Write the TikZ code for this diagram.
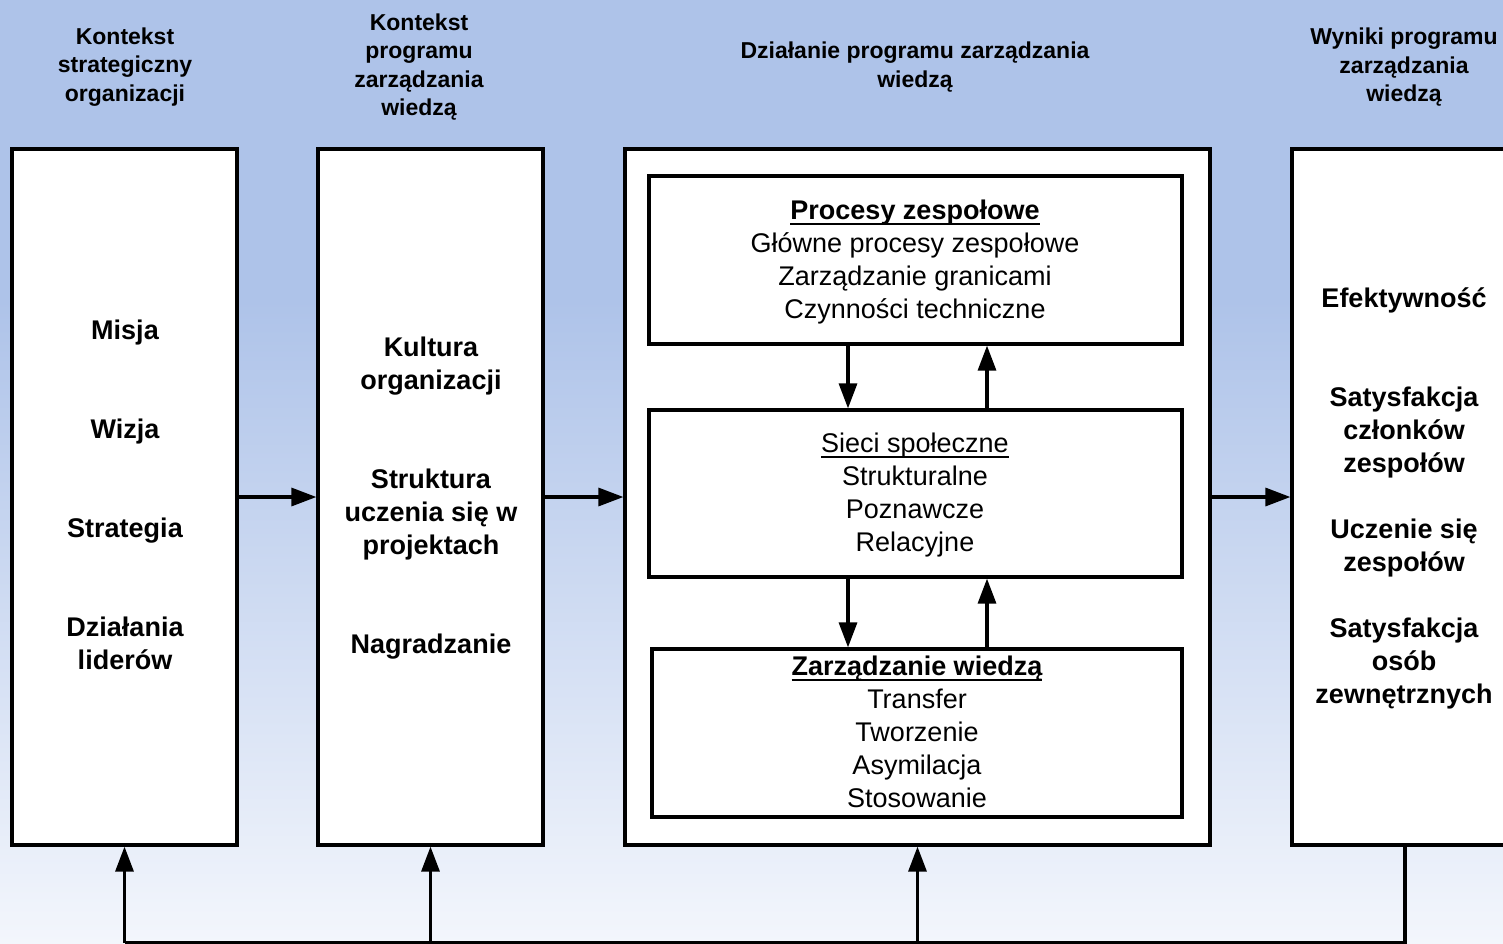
\documentclass[tikz,border=0pt]{standalone}
\usepackage{fontspec}
\setmainfont{Liberation Sans}
\usetikzlibrary{arrows.meta}

\definecolor{skytop}{RGB}{174,195,233}
\definecolor{skybot}{RGB}{243,246,252}

% underline with a rule of fixed thickness and depth
\newcommand{\undl}[1]{\setbox0\hbox{#1}\rlap{\rule[-5pt]{\wd0}{2pt}}\box0}

\begin{document}
\begin{tikzpicture}[x=1pt,y=-1pt,
  panel/.style={draw=black,fill=white,line width=3.2pt,inner sep=0pt},
  link/.style={line width=3.2pt},
  arr/.style={line width=3.2pt,-{Triangle[length=25pt,width=18pt]}},
  headtext/.style={align=center,inner sep=0pt,font=\bfseries\fontsize{23}{28.5}\selectfont,
    execute at begin node=\strut,execute at end node=\strut},
  boldtext/.style={align=center,inner sep=0pt,font=\bfseries\fontsize{27}{33}\selectfont,
    execute at begin node=\strut,execute at end node=\strut},
  plaintext/.style={align=center,inner sep=0pt,font=\fontsize{27}{33}\selectfont,
    execute at begin node=\strut,execute at end node=\strut}]

\useasboundingbox (0,0) rectangle (1503,943);
\clip (0,0) rectangle (1503,943);

% background
\fill[skytop] (0,0) rectangle (1503,301);
\shade[top color=skytop,bottom color=skybot] (0,300) rectangle (1503,943);

% column headings
\node[headtext] (h1) at (125,68.8) {Kontekst\\strategiczny\\organizacji};
\node[headtext] (h2) at (419,69) {Kontekst\\programu\\zarządzania\\wiedzą};
\node[headtext] (h3) at (915,69) {Działanie programu zarządzania\\wiedzą};
\node[headtext] (h4) at (1404,69) {Wyniki programu\\zarządzania\\wiedzą};

% main columns
\node[panel,minimum width=225pt,minimum height=696pt] (b1) at (124.5,497) {};
\node[panel,minimum width=225pt,minimum height=696pt] (b2) at (430.5,497) {};
\node[panel,minimum width=585pt,minimum height=696pt] (b3) at (917.5,497) {};
\node[panel,minimum width=240pt,minimum height=696pt] (b4) at (1412,497) {};

% inner blocks of the central column
\node[panel,minimum width=533pt,minimum height=168pt] (p1) at (915.5,260) {};
\node[panel,minimum width=533pt,minimum height=167pt] (p2) at (915.5,493.5) {};
\node[panel,minimum width=530pt,minimum height=168pt] (p3) at (917,733) {};

% column contents
\node[boldtext] (t1) at (125,500) {Misja\\[66pt]Wizja\\[66pt]Strategia\\[66pt]Działania\\liderów};
\node[boldtext] (t2) at (431,500.5) {Kultura\\organizacji\\[66pt]Struktura\\uczenia się w\\projektach\\[66pt]Nagradzanie};
\node[boldtext] (t4) at (1404,500.5) {Efektywność\\[66pt]Satysfakcja\\członków\\zespołów\\[33pt]Uczenie się\\zespołów\\[33pt]Satysfakcja\\osób\\zewnętrznych};

\node[plaintext] (s1) at (915,264.5) {\textbf{\undl{Procesy zespołowe}}\\Główne procesy zespołowe\\Zarządzanie granicami\\Czynności techniczne};
\node[plaintext] (s2) at (915,497.5) {\undl{Sieci społeczne}\\Strukturalne\\Poznawcze\\Relacyjne};
\node[plaintext] (s3) at (917,737) {\textbf{\undl{Zarządzanie wiedzą}}\\Transfer\\Tworzenie\\Asymilacja\\Stosowanie};

% flow between columns
\draw[arr] (b1.east) -- (b2.west);
\draw[arr] (b2.east) -- (b3.west);
\draw[arr] (b3.east) -- (b4.west);

% exchanges between inner blocks
\coordinate (xd) at (848,0);
\coordinate (xu) at (987,0);
\draw[arr] (p1.south -| xd) -- (p2.north -| xd);
\draw[arr] (p2.north -| xu) -- (p1.south -| xu);
\draw[arr] (p2.south -| xd) -- (p3.north -| xd);
\draw[arr] (p3.north -| xu) -- (p2.south -| xu);

% feedback loop along the bottom
\coordinate (f1) at (124.5,943);
\coordinate (f2) at (430.5,943);
\coordinate (f3) at (917.5,943);
\coordinate (f4) at (1405,943);
\draw[link] (b4.south -| f4) -- (f4) -- (f1);
\draw[arr] (f1) -- (b1.south);
\draw[arr] (f2) -- (b2.south);
\draw[arr] (f3) -- (b3.south);

\end{tikzpicture}
\end{document}
